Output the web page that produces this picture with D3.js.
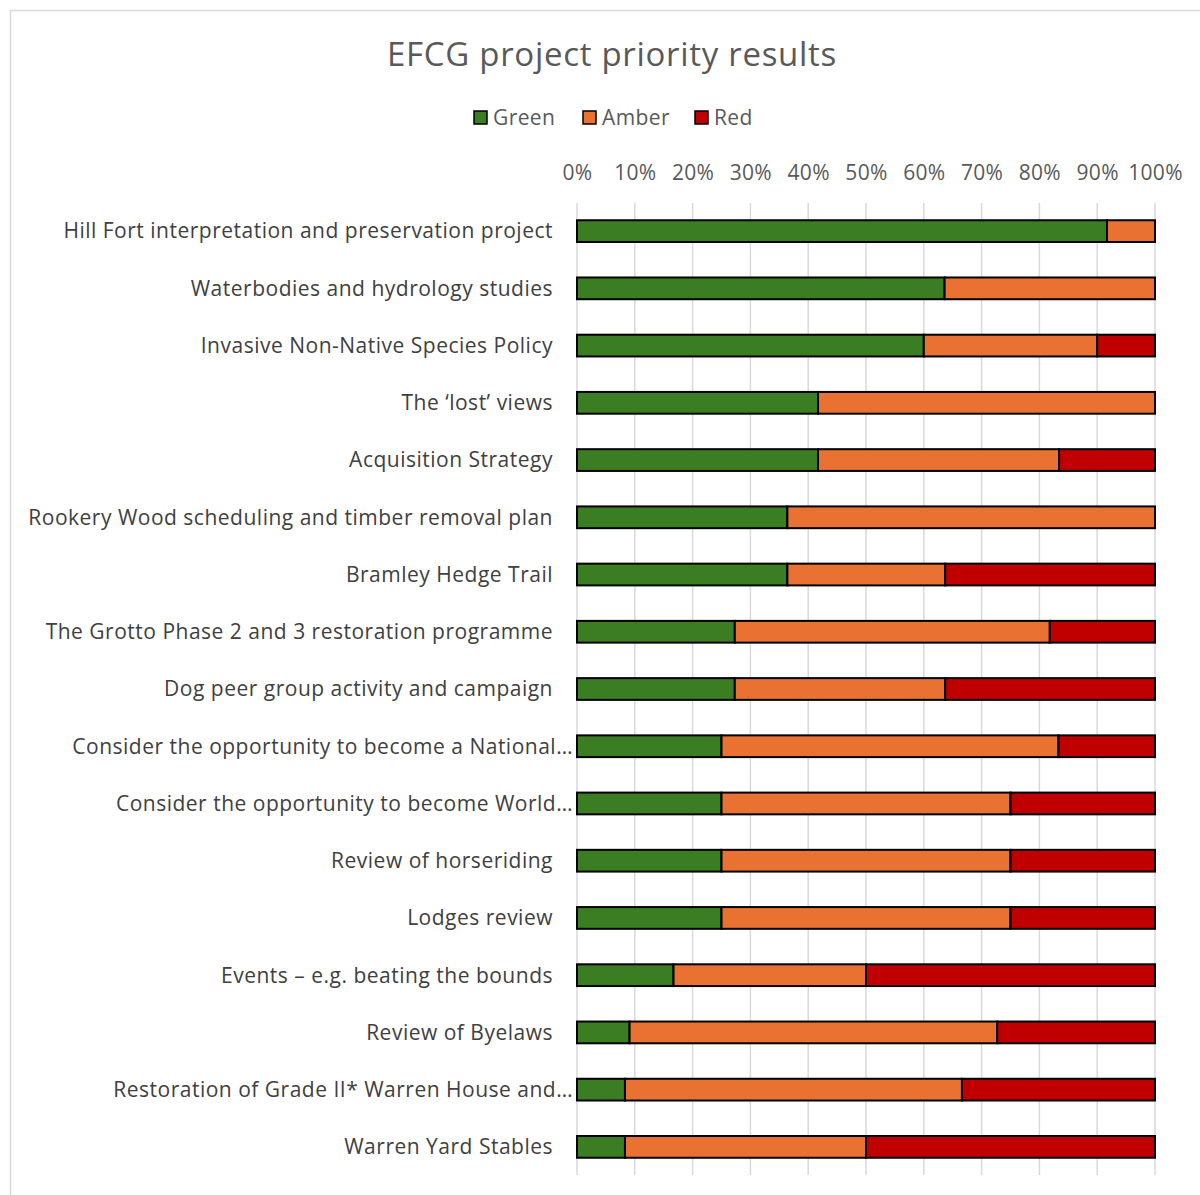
<!DOCTYPE html>
<html><head><meta charset="utf-8">
<script src="https://cdn.jsdelivr.net/npm/d3@7"></script>
<style>body{margin:0;background:#fff}svg{display:block}text{font-family:"Open Sans",sans-serif}</style>
</head><body><svg id="c" width="1200" height="1195"></svg>
<script>
const categories = [
  "Hill Fort interpretation and preservation project",
  "Waterbodies and hydrology studies",
  "Invasive Non-Native Species Policy",
  "The \u2018lost\u2019 views",
  "Acquisition Strategy",
  "Rookery Wood scheduling and timber removal plan",
  "Bramley Hedge Trail",
  "The Grotto Phase 2 and 3 restoration programme",
  "Dog peer group activity and campaign",
  "Consider the opportunity to become a National\u2026",
  "Consider the opportunity to become World\u2026",
  "Review of horseriding",
  "Lodges review",
  "Events \u2013 e.g. beating the bounds",
  "Review of Byelaws",
  "Restoration of Grade II* Warren House and\u2026",
  "Warren Yard Stables"
];
const green = [91.7, 63.6, 60.0, 41.7, 41.7, 36.4, 36.4, 27.3, 27.3, 25.0, 25.0, 25.0, 25.0, 16.7, 9.1, 8.3, 8.3];
const amber = [8.3, 36.4, 30.0, 58.3, 41.7, 63.6, 27.3, 54.5, 36.4, 58.3, 50.0, 50.0, 50.0, 33.3, 63.6, 58.3, 41.7];
const red   = [0, 0, 10.0, 0, 16.6, 0, 36.3, 18.2, 36.3, 16.7, 25.0, 25.0, 25.0, 50.0, 27.3, 33.4, 50.0];
const seriesNames = ["Green", "Amber", "Red"];
const seriesColors = ["#3b7d23", "#e97132", "#c00000"];
const tickValues = [0,10,20,30,40,50,60,70,80,90,100];
const tickLabels = ["0%","10%","20%","30%","40%","50%","60%","70%","80%","90%","100%"];

const svg = d3.select("#c");
svg.append("rect").attr("x",10.5).attr("y",10.5).attr("width",1200).attr("height",1200)
  .attr("fill","#fff").attr("stroke","#d9d9d9").attr("stroke-width",1.5);

const x = d3.scaleLinear().domain([0,100]).range([577,1155]);
const y = d3.scaleBand().domain(categories).range([202.5,1175.5]).paddingInner(0.62).paddingOuter(0.31);

svg.append("text").attr("x",612).attr("y",66).attr("text-anchor","middle")
  .attr("font-size",33).attr("letter-spacing",0.7).attr("fill","#595959").text("EFCG project priority results");

// gridlines
svg.append("g").selectAll("line").data(tickValues).join("line")
  .attr("x1",d=>x(d)).attr("x2",d=>x(d)).attr("y1",203).attr("y2",1175)
  .attr("stroke","#d9d9d9").attr("stroke-width",1.5);

// top axis labels
const ax = svg.append("g").attr("transform","translate(0,180)")
  .call(d3.axisTop(x).tickValues(tickValues).tickFormat((d,i)=>tickLabels[i]).tickSize(0).tickPadding(0));
ax.select(".domain").remove();
ax.selectAll("text").attr("font-size",21).attr("letter-spacing",0.3).attr("fill","#595959").attr("font-family","Open Sans, sans-serif");

// category labels
svg.append("g").selectAll("text").data(categories).join("text")
  .attr("x",d=>d.endsWith("\u2026") ? 573 : 553)
  .attr("y",d=>y(d)+y.bandwidth()/2).attr("dy","0.35em")
  .attr("text-anchor","end").attr("font-size",21).attr("letter-spacing",0.5).attr("fill","#404040").text(d=>d);

// stacked bars
const rows = categories.map((c,i)=>({cat:c, Green:green[i], Amber:amber[i], Red:red[i]}));
const stack = d3.stack().keys(seriesNames)(rows);
svg.append("g").selectAll("g").data(stack).join("g")
  .attr("fill",(d,i)=>seriesColors[i])
  .selectAll("rect").data(d=>d.filter(s=>s[1]-s[0]>0)).join("rect")
  .attr("x",d=>x(d[0])).attr("width",d=>x(Math.min(d[1],100))-x(d[0]))
  .attr("y",d=>y(d.data.cat)).attr("height",y.bandwidth())
  .attr("stroke","#000").attr("stroke-width",2);

// legend
const lg = svg.append("g").attr("transform","translate(474,111)");
const items = [{n:"Green",x:0},{n:"Amber",x:109},{n:"Red",x:221}];
seriesNames.forEach((n,i)=>{
  const g = lg.append("g").attr("transform",`translate(${items[i].x},0)`);
  g.append("rect").attr("width",13).attr("height",13).attr("fill",seriesColors[i]).attr("stroke","#000").attr("stroke-width",1.5);
  g.append("text").attr("x",19).attr("y",6.5).attr("dy","0.35em").attr("font-size",21).attr("letter-spacing",0.4).attr("fill","#595959").text(n);
});
</script></body></html>
